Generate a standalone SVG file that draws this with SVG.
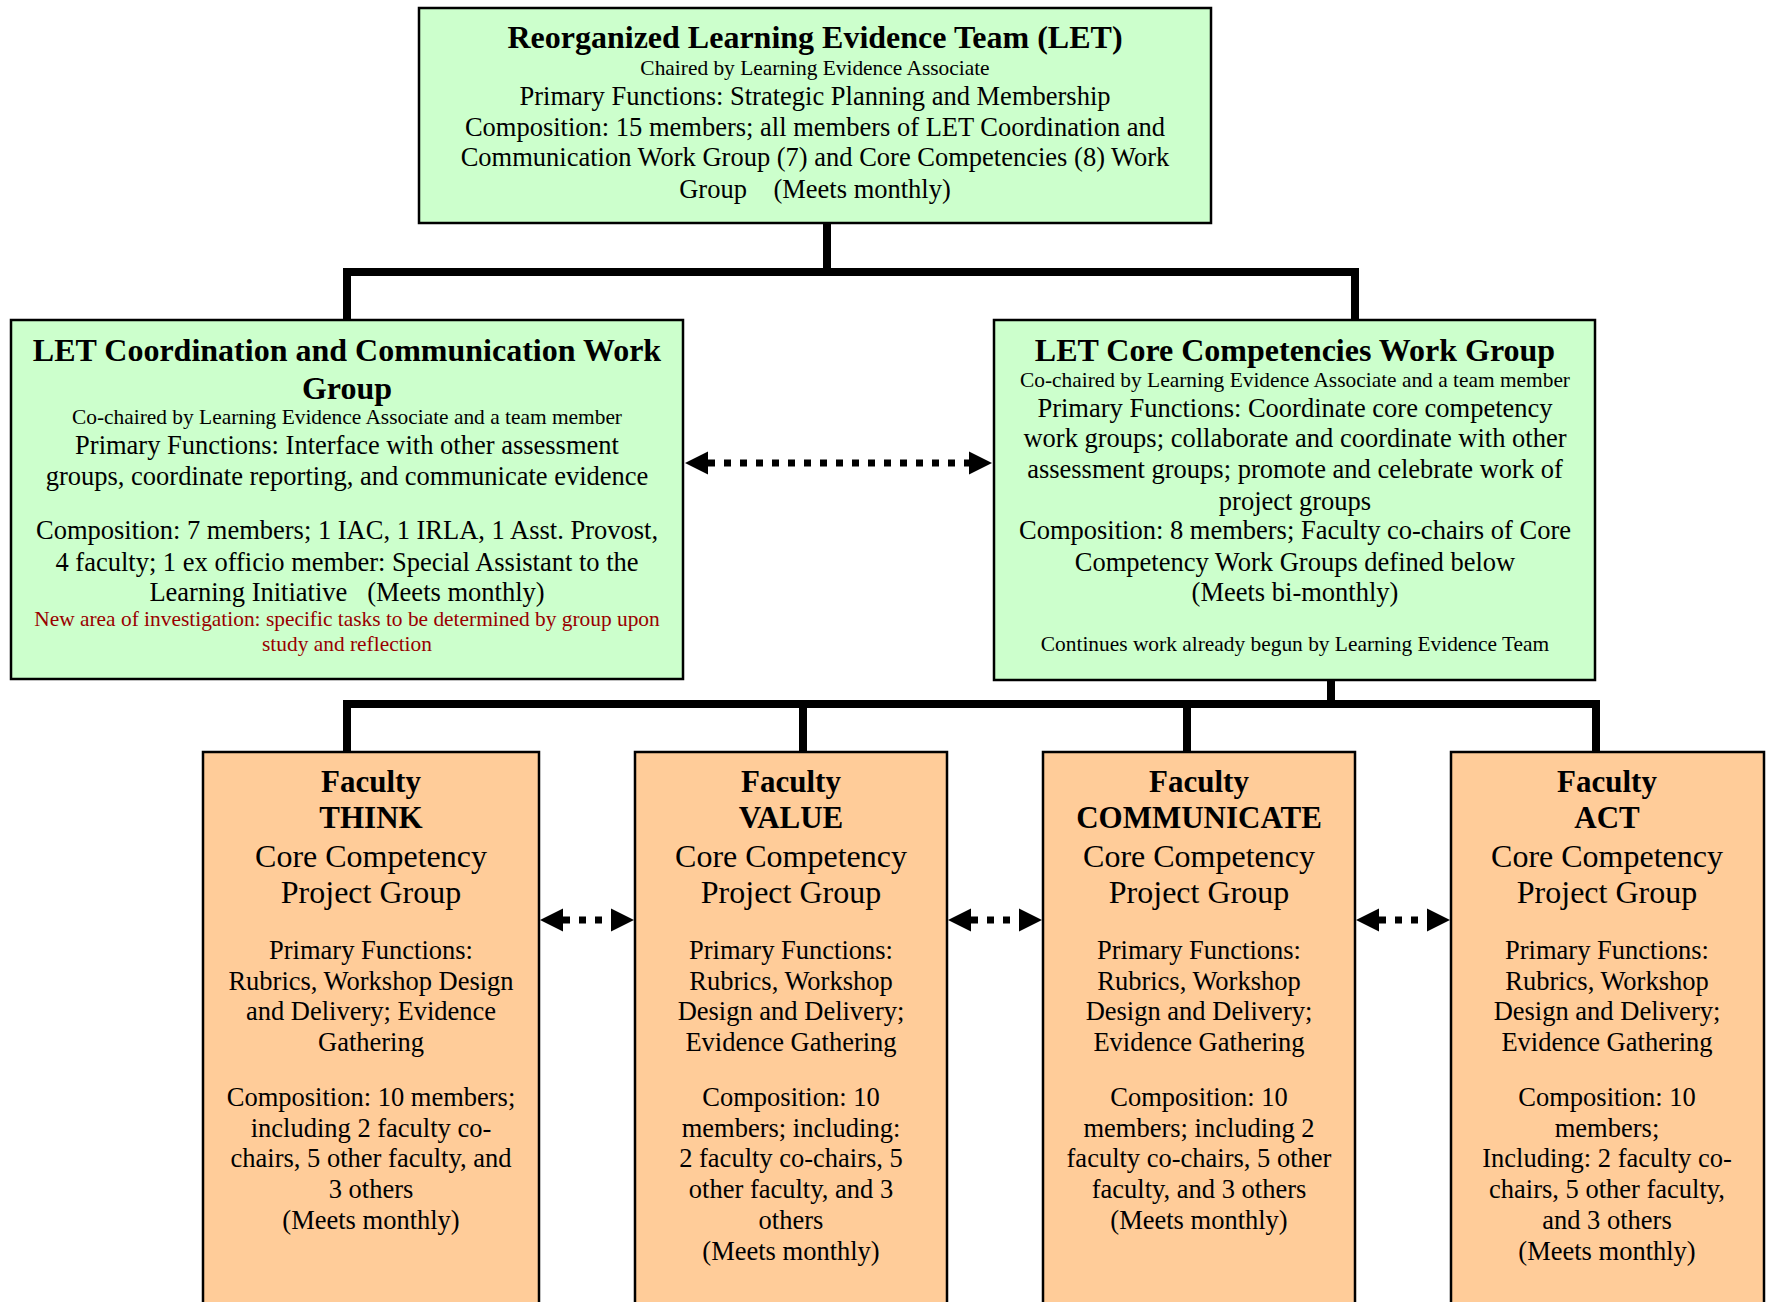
<svg xmlns="http://www.w3.org/2000/svg" width="1772" height="1302" viewBox="0 0 1772 1302">
<style>
  text { font-family: "Liberation Serif", "Times New Roman", serif; fill: #000; text-anchor: middle; white-space: pre; }
  .t { font-weight: bold; font-size: 32px; }
  .tf { font-weight: bold; font-size: 31px; }
  .b { font-size: 26.5px; }
  .s { font-size: 21.4px; }
  .cc { font-size: 32px; }
  .red { fill: #990000; }
  .green { fill: #CCFFCC; stroke: #000; stroke-width: 2.5; }
  .orange { fill: #FFCC99; stroke: #000; stroke-width: 2.5; }
  .conn { fill: none; stroke: #000; stroke-width: 8; stroke-linejoin: miter; }
  .dot { fill: none; stroke: #000; stroke-width: 7; stroke-dasharray: 7 9; }
</style>
<defs>
  <marker id="ah" markerUnits="userSpaceOnUse" markerWidth="24" markerHeight="24" refX="0" refY="11.5" orient="auto-start-reverse" viewBox="0 0 24 23">
    <path d="M0,0 L23,11.5 L0,23 z" fill="#000"/>
  </marker>
</defs>

<g id="connectors">
  <path class="conn" d="M827,223 V272"/>
  <path class="conn" d="M347,320 V272 H1355 V320"/>
  <path class="conn" d="M1331,680 V704"/>
  <path class="conn" d="M347,752 V704 H1596 V752"/>
  <path class="conn" d="M803,704 V752"/>
  <path class="conn" d="M1187,704 V752"/>
  <line class="dot" x1="708" y1="463" x2="969" y2="463" marker-start="url(#ah)" marker-end="url(#ah)"/>
  <line class="dot" x1="563" y1="920" x2="611" y2="920" marker-start="url(#ah)" marker-end="url(#ah)"/>
  <line class="dot" x1="971" y1="920" x2="1019" y2="920" marker-start="url(#ah)" marker-end="url(#ah)"/>
  <line class="dot" x1="1379" y1="920" x2="1427" y2="920" marker-start="url(#ah)" marker-end="url(#ah)"/>
</g>

<g id="let-team">
  <rect class="green" x="419" y="8" width="792" height="215"/>
  <text class="t" x="815" y="48">Reorganized Learning Evidence Team (LET)</text>
  <text class="s" x="815" y="75">Chaired by Learning Evidence Associate</text>
  <text class="b" x="815" y="105">Primary Functions: Strategic Planning and Membership</text>
  <text class="b" x="815" y="136">Composition: 15 members; all members of LET Coordination and</text>
  <text class="b" x="815" y="166">Communication Work Group (7) and Core Competencies (8) Work</text>
  <text class="b" x="815" y="198">Group    (Meets monthly)</text>
</g>

<g id="coordination-group">
  <rect class="green" x="11" y="320" width="672" height="359"/>
  <text class="t" x="347" y="361">LET Coordination and Communication Work</text>
  <text class="t" x="347" y="399">Group</text>
  <text class="s" x="347" y="424">Co-chaired by Learning Evidence Associate and a team member</text>
  <text class="b" x="347" y="454">Primary Functions: Interface with other assessment</text>
  <text class="b" x="347" y="485">groups, coordinate reporting, and communicate evidence</text>
  <text class="b" x="347" y="539">Composition: 7 members; 1 IAC, 1 IRLA, 1 Asst. Provost,</text>
  <text class="b" x="347" y="571">4 faculty; 1 ex officio member: Special Assistant to the</text>
  <text class="b" x="347" y="601">Learning Initiative   (Meets monthly)</text>
  <text class="s red" x="347" y="626">New area of investigation: specific tasks to be determined by group upon</text>
  <text class="s red" x="347" y="651">study and reflection</text>
</g>

<g id="core-competencies-group">
  <rect class="green" x="994" y="320" width="601" height="360"/>
  <text class="t" x="1295" y="361">LET Core Competencies Work Group</text>
  <text class="s" x="1295" y="387">Co-chaired by Learning Evidence Associate and a team member</text>
  <text class="b" x="1295" y="417">Primary Functions: Coordinate core competency</text>
  <text class="b" x="1295" y="447">work groups; collaborate and coordinate with other</text>
  <text class="b" x="1295" y="478">assessment groups; promote and celebrate work of</text>
  <text class="b" x="1295" y="510">project groups</text>
  <text class="b" x="1295" y="539">Composition: 8 members; Faculty co-chairs of Core</text>
  <text class="b" x="1295" y="571">Competency Work Groups defined below</text>
  <text class="b" x="1295" y="601">(Meets bi-monthly)</text>
  <text class="s" x="1295" y="651">Continues work already begun by Learning Evidence Team</text>
</g>

<g id="think-group">
  <rect class="orange" x="203" y="752" width="336" height="570"/>
  <text class="tf" x="371" y="792">Faculty</text>
  <text class="tf" x="371" y="828">THINK</text>
  <text class="cc" x="371" y="867">Core Competency</text>
  <text class="cc" x="371" y="903">Project Group</text>
  <text class="b" x="371" y="959">Primary Functions:</text>
  <text class="b" x="371" y="990">Rubrics, Workshop Design</text>
  <text class="b" x="371" y="1020">and Delivery; Evidence</text>
  <text class="b" x="371" y="1051">Gathering</text>
  <text class="b" x="371" y="1106">Composition: 10 members;</text>
  <text class="b" x="371" y="1137">including 2 faculty co-</text>
  <text class="b" x="371" y="1167">chairs, 5 other faculty, and</text>
  <text class="b" x="371" y="1198">3 others</text>
  <text class="b" x="371" y="1229">(Meets monthly)</text>
</g>

<g id="value-group">
  <rect class="orange" x="635" y="752" width="312" height="570"/>
  <text class="tf" x="791" y="792">Faculty</text>
  <text class="tf" x="791" y="828">VALUE</text>
  <text class="cc" x="791" y="867">Core Competency</text>
  <text class="cc" x="791" y="903">Project Group</text>
  <text class="b" x="791" y="959">Primary Functions:</text>
  <text class="b" x="791" y="990">Rubrics, Workshop</text>
  <text class="b" x="791" y="1020">Design and Delivery;</text>
  <text class="b" x="791" y="1051">Evidence Gathering</text>
  <text class="b" x="791" y="1106">Composition: 10</text>
  <text class="b" x="791" y="1137">members; including:</text>
  <text class="b" x="791" y="1167">2 faculty co-chairs, 5</text>
  <text class="b" x="791" y="1198">other faculty, and 3</text>
  <text class="b" x="791" y="1229">others</text>
  <text class="b" x="791" y="1260">(Meets monthly)</text>
</g>

<g id="communicate-group">
  <rect class="orange" x="1043" y="752" width="312" height="570"/>
  <text class="tf" x="1199" y="792">Faculty</text>
  <text class="tf" x="1199" y="828">COMMUNICATE</text>
  <text class="cc" x="1199" y="867">Core Competency</text>
  <text class="cc" x="1199" y="903">Project Group</text>
  <text class="b" x="1199" y="959">Primary Functions:</text>
  <text class="b" x="1199" y="990">Rubrics, Workshop</text>
  <text class="b" x="1199" y="1020">Design and Delivery;</text>
  <text class="b" x="1199" y="1051">Evidence Gathering</text>
  <text class="b" x="1199" y="1106">Composition: 10</text>
  <text class="b" x="1199" y="1137">members; including 2</text>
  <text class="b" x="1199" y="1167">faculty co-chairs, 5 other</text>
  <text class="b" x="1199" y="1198">faculty, and 3 others</text>
  <text class="b" x="1199" y="1229">(Meets monthly)</text>
</g>

<g id="act-group">
  <rect class="orange" x="1451" y="752" width="313" height="570"/>
  <text class="tf" x="1607" y="792">Faculty</text>
  <text class="tf" x="1607" y="828">ACT</text>
  <text class="cc" x="1607" y="867">Core Competency</text>
  <text class="cc" x="1607" y="903">Project Group</text>
  <text class="b" x="1607" y="959">Primary Functions:</text>
  <text class="b" x="1607" y="990">Rubrics, Workshop</text>
  <text class="b" x="1607" y="1020">Design and Delivery;</text>
  <text class="b" x="1607" y="1051">Evidence Gathering</text>
  <text class="b" x="1607" y="1106">Composition: 10</text>
  <text class="b" x="1607" y="1137">members;</text>
  <text class="b" x="1607" y="1167">Including: 2 faculty co-</text>
  <text class="b" x="1607" y="1198">chairs, 5 other faculty,</text>
  <text class="b" x="1607" y="1229">and 3 others</text>
  <text class="b" x="1607" y="1260">(Meets monthly)</text>
</g>
</svg>
